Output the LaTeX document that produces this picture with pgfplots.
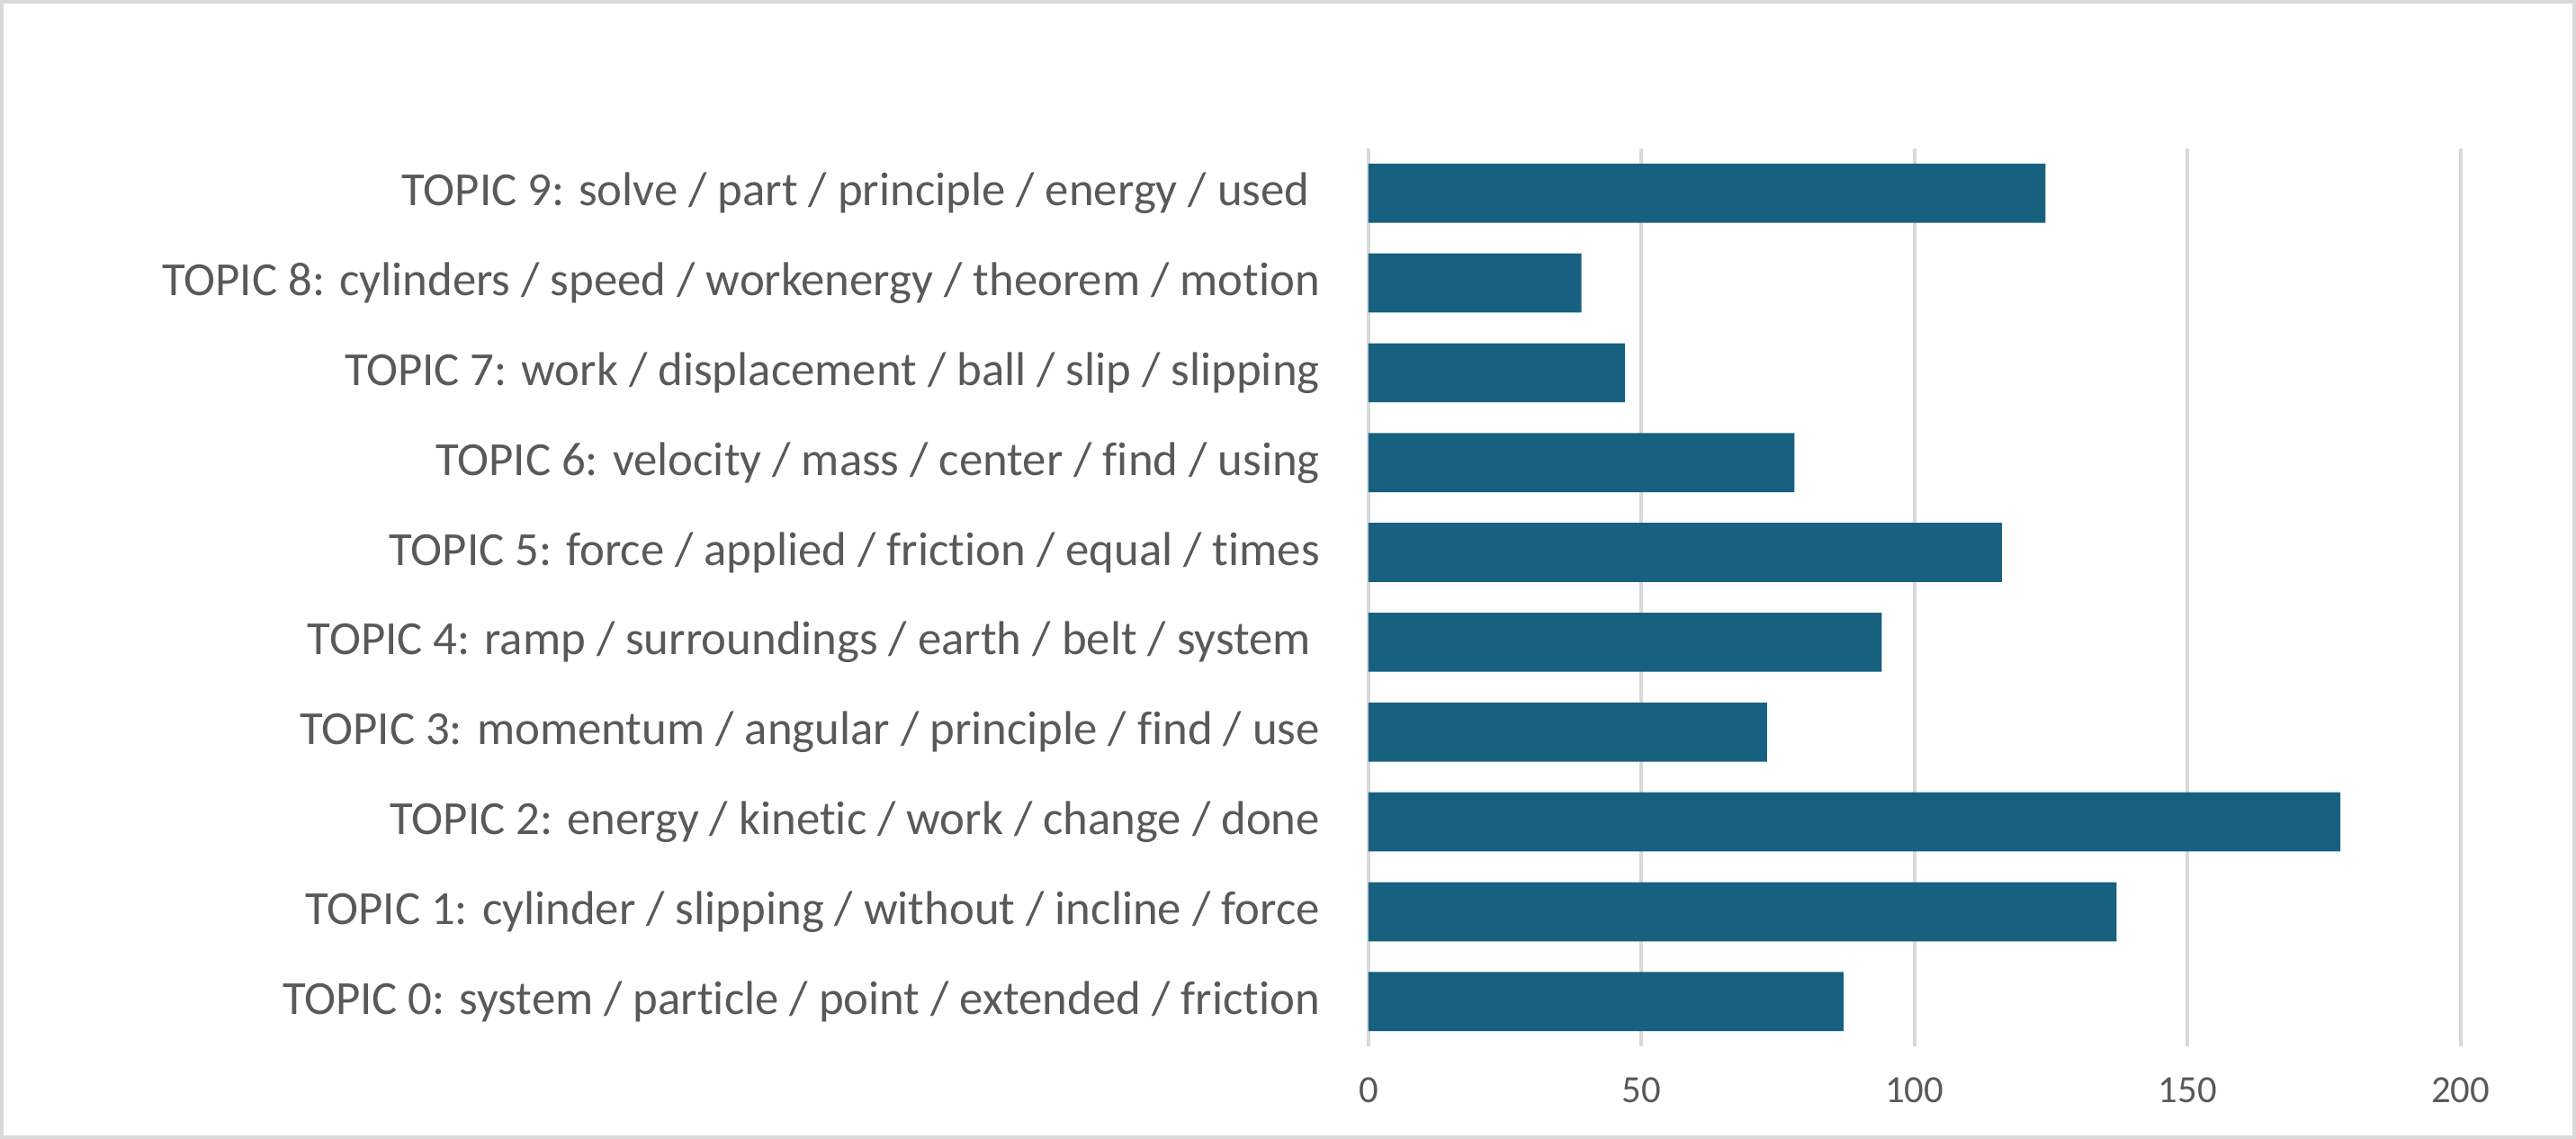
\documentclass[border=0pt]{standalone}
\usepackage{fontspec}
\setmainfont{Carlito}[Ligatures=NoCommon]
\usepackage{pgfplots}
\pgfplotsset{compat=1.18}
\definecolor{barblue}{HTML}{17607F}
\definecolor{gridgray}{HTML}{D9D9D9}
\definecolor{labelgray}{HTML}{595959}

\pgfplotstableread{
y val
0 87
1 137
2 178
3 73
4 94
5 116
6 78
7 47
8 39
9 124
}\topics

\begin{document}
\begin{tikzpicture}
% outer frame of the chart area
\draw[gridgray,line width=0.8pt] (0.01,0.01) rectangle (19.99,8.829);
\begin{axis}[
  at={(10.625cm,0.714cm)},anchor=south west,
  scale only axis,width=8.482cm,height=6.977cm,
  xbar,bar width=0.459cm,
  xmin=0,xmax=200,ymin=-0.5,ymax=9.5,
  xtick={0,50,100,150,200},
  ytick=data,
  yticklabels={
    {TOPIC 0: system / particle / point / extended / friction},
    {TOPIC 1: cylinder / slipping / without / incline / force},
    {TOPIC 2: energy / kinetic / work / change / done},
    {TOPIC 3: momentum / angular / principle / find / use},
    {TOPIC 4: ramp / surroundings / earth / belt / system\kern0.07cm\mbox{}},
    {TOPIC 5: force / applied / friction / equal / times},
    {TOPIC 6: velocity / mass / center / find / using},
    {TOPIC 7: work / displacement / ball / slip / slipping},
    {TOPIC 8: cylinders / speed / workenergy / theorem / motion},
    {TOPIC 9: solve / part / principle / energy / used\kern0.08cm\mbox{}}},
  axis line style={draw=none},
  major tick length=0pt,
  xmajorgrids,grid style={gridgray,line width=0.8pt},
  /pgf/number format/assume math mode=true,
  xticklabel style={font=\fontsize{8.5}{9}\selectfont,text=labelgray,yshift=-0.12cm},
  yticklabel style={font=\fontsize{10.5}{12}\selectfont,text=labelgray,anchor=east,inner sep=0pt,xshift=-0.37cm},
]
\addplot[fill=barblue,draw=none] table[x=val,y=y] {\topics};
\end{axis}
\end{tikzpicture}
\end{document}
